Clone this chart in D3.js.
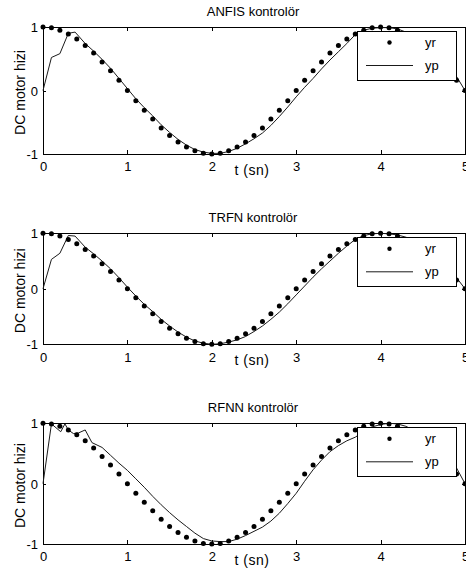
<!DOCTYPE html>
<html>
<head>
<meta charset="utf-8">
<script src="https://cdn.jsdelivr.net/npm/d3@7"></script>
<style>
  body { margin: 0; background: #fff; }
  svg { display: block; }
  text { font-family: "Liberation Sans", Arial, sans-serif; fill: #000; }
</style>
</head>
<body>
<svg width="466" height="577"></svg>
<script>
// reference signal yr, sampled every 0.1 s
const tYr = [0, 0.1, 0.2, 0.3, 0.4, 0.5, 0.6, 0.7, 0.8, 0.9, 1.0, 1.1, 1.2, 1.3, 1.4, 1.5, 1.6, 1.7, 1.8, 1.9, 2.0,
  2.1, 2.2, 2.3, 2.4, 2.5, 2.6, 2.7, 2.8, 2.9, 3.0, 3.1, 3.2, 3.3, 3.4, 3.5, 3.6, 3.7, 3.8, 3.9, 4.0,
  4.1, 4.2, 4.3, 4.4, 4.5, 4.6, 4.7, 4.8, 4.9, 5.0];
const yr = [1.00, 0.99, 0.95, 0.89, 0.81, 0.71, 0.59, 0.45, 0.31, 0.16, 0.00, -0.16, -0.31, -0.45, -0.59, -0.71, -0.81, -0.89, -0.95, -0.99, -1.00,
  -0.99, -0.95, -0.89, -0.81, -0.71, -0.59, -0.45, -0.31, -0.16, 0.00, 0.16, 0.31, 0.45, 0.59, 0.71, 0.81, 0.89, 0.95, 0.99, 1.00,
  0.99, 0.95, 0.89, 0.81, 0.71, 0.59, 0.45, 0.31, 0.16, 0.00];

// plant output yp for each controller, [t, y]
const ypAnfis = [[0, 0], [0.1, 0.52], [0.2, 0.58], [0.3, 0.90], [0.38, 0.92], [0.5, 0.74], [0.6, 0.62], [0.7, 0.49],
  [0.8, 0.35], [0.9, 0.19], [1.0, 0.03], [1.1, -0.13], [1.2, -0.27], [1.3, -0.40], [1.4, -0.54], [1.5, -0.66],
  [1.6, -0.77], [1.7, -0.86], [1.8, -0.93], [1.9, -0.97], [2.0, -0.99], [2.1, -0.99], [2.2, -0.96], [2.3, -0.91],
  [2.4, -0.84], [2.5, -0.76], [2.6, -0.67], [2.7, -0.55], [2.8, -0.41], [2.9, -0.26], [3.0, -0.10], [3.1, 0.05],
  [3.2, 0.19], [3.3, 0.34], [3.4, 0.48], [3.5, 0.61], [3.6, 0.74], [3.7, 0.88], [3.8, 0.95], [3.9, 0.98],
  [4.0, 0.99], [4.1, 0.99], [4.2, 0.97], [4.3, 0.92], [4.4, 0.86], [4.5, 0.78], [4.6, 0.68], [4.7, 0.56],
  [4.8, 0.42], [4.9, 0.22], [5.0, 0.0]];

const ypTrfn = [[0, 0], [0.1, 0.53], [0.2, 0.64], [0.3, 0.96], [0.38, 0.95], [0.5, 0.75], [0.6, 0.63], [0.7, 0.50],
  [0.8, 0.36], [0.9, 0.20], [1.0, 0.03], [1.1, -0.13], [1.2, -0.28], [1.3, -0.41], [1.4, -0.55], [1.5, -0.67],
  [1.6, -0.78], [1.7, -0.87], [1.8, -0.94], [1.9, -0.98], [2.0, -1.00], [2.1, -0.99], [2.2, -0.96], [2.3, -0.92],
  [2.4, -0.86], [2.5, -0.77], [2.6, -0.67], [2.7, -0.55], [2.8, -0.42], [2.9, -0.27], [3.0, -0.11], [3.1, 0.05],
  [3.2, 0.21], [3.3, 0.36], [3.4, 0.50], [3.5, 0.64], [3.6, 0.77], [3.7, 0.89], [3.8, 0.96], [3.9, 0.99],
  [4.0, 1.00], [4.1, 0.99], [4.2, 0.97], [4.3, 0.93], [4.4, 0.87], [4.5, 0.79], [4.6, 0.69], [4.7, 0.57],
  [4.8, 0.43], [4.9, 0.20], [5.0, 0.0]];

const ypRfnn = [[0, 0], [0.1, 0.99], [0.21, 0.86], [0.26, 0.99], [0.3, 0.89], [0.36, 0.83], [0.42, 0.84], [0.5, 0.89],
  [0.58, 0.68], [0.7, 0.60], [0.8, 0.47], [0.9, 0.34], [1.0, 0.22], [1.1, 0.08], [1.2, -0.06], [1.3, -0.21],
  [1.4, -0.35], [1.5, -0.48], [1.6, -0.60], [1.7, -0.71], [1.8, -0.82], [1.9, -0.91], [2.0, -0.95], [2.1, -0.96],
  [2.2, -0.96], [2.3, -0.92], [2.4, -0.86], [2.5, -0.79], [2.6, -0.72], [2.7, -0.62], [2.8, -0.49], [2.9, -0.33],
  [3.0, -0.16], [3.1, 0.04], [3.2, 0.23], [3.3, 0.39], [3.4, 0.53], [3.5, 0.63], [3.6, 0.71], [3.7, 0.77],
  [3.8, 0.86], [3.9, 0.94], [4.0, 0.98], [4.1, 1.00], [4.2, 0.99], [4.3, 0.95], [4.4, 0.88], [4.5, 0.79],
  [4.6, 0.68], [4.7, 0.55], [4.8, 0.41], [4.9, 0.26], [5.0, 0.0]];

const titles = ["ANFIS kontrolör", "TRFN kontrolör", "RFNN kontrolör"];
const xTicks = [0, 1, 2, 3, 4, 5];
const yTicks = [-1, 0, 1];

const svg = d3.select("svg");
const left = 43, right = 465;

// each panel's vertical extent (axes box)
const panels = [
  { title: titles[0], yp: ypAnfis, top: 27, bottom: 154 },
  { title: titles[1], yp: ypTrfn, top: 233.3, bottom: 344.3 },
  { title: titles[2], yp: ypRfnn, top: 423.3, bottom: 544 }
];

const x = d3.scaleLinear().domain([0, 5]).range([left, right]);
const fontSize = 13;
const plain = d => String(d);   // keep ASCII hyphen for "-1"

panels.forEach(p => {
  const y = d3.scaleLinear().domain([-1, 1]).range([p.bottom, p.top]);
  const g = svg.append("g");

  // title
  g.append("text")
    .attr("x", 253)
    .attr("y", p.top - 11)
    .attr("text-anchor", "middle")
    .style("font-size", "13px")
    .text(p.title);

  // axes with inward ticks
  const ax = g.append("g").attr("transform", `translate(0,${p.bottom})`)
    .call(d3.axisBottom(x).tickValues(xTicks).tickFormat(plain).tickSizeInner(-4).tickSizeOuter(0).tickPadding(8));
  g.append("g").attr("transform", `translate(0,${p.top})`)
    .call(d3.axisTop(x).tickValues(xTicks).tickFormat("").tickSizeInner(-4).tickSizeOuter(0));
  const ay = g.append("g").attr("transform", `translate(${left},0)`)
    .call(d3.axisLeft(y).tickValues(yTicks).tickFormat(plain).tickSizeInner(-3).tickSizeOuter(0).tickPadding(5));
  g.append("g").attr("transform", `translate(${right},0)`)
    .call(d3.axisRight(y).tickValues(yTicks).tickFormat("").tickSizeInner(-3).tickSizeOuter(0));

  g.selectAll(".domain").remove();
  g.selectAll(".tick line").attr("stroke", "#000").attr("shape-rendering", "crispEdges");
  [ax, ay].forEach(a => a.selectAll("text")
    .style("font-size", fontSize + "px")
    .attr("font-family", null));
  ay.selectAll("text").attr("dy", "0.35em");

  g.append("rect")
    .attr("x", left)
    .attr("y", p.top)
    .attr("width", right - left)
    .attr("height", p.bottom - p.top)
    .attr("fill", "none")
    .attr("stroke", "#000")
    .attr("shape-rendering", "crispEdges");

  // axis labels
  g.append("text")
    .attr("x", 252)
    .attr("y", p.bottom + 21)
    .attr("text-anchor", "middle")
    .style("font-size", "14px")
    .style("letter-spacing", "0.5px")
    .text("t (sn)");

  g.append("text")
    .attr("transform", "rotate(-90)")
    .attr("x", -((p.top + p.bottom) / 2 + 2))
    .attr("y", 25)
    .attr("text-anchor", "middle")
    .style("font-size", "14px")
    .text("DC motor hizi");

  // yp line
  const line = d3.line().x(d => x(d[0])).y(d => y(d[1]));
  g.append("path")
    .datum(p.yp)
    .attr("d", line)
    .attr("fill", "none")
    .attr("stroke", "#1a1a1a")
    .attr("stroke-width", 1);

  // yr dots
  g.selectAll(".dot")
    .data(tYr.map((t, i) => [t, yr[i]]))
    .enter()
    .append("circle")
    .attr("class", "dot")
    .attr("cx", d => x(d[0]))
    .attr("cy", d => y(d[1]))
    .attr("r", 2.5)
    .attr("fill", "#000");

  // legend
  const lg = g.append("g").attr("transform", `translate(357,${p.top + 4.5})`);
  lg.append("rect")
    .attr("width", 99.5)
    .attr("height", 49)
    .attr("fill", "#fff")
    .attr("stroke", "#000")
    .attr("shape-rendering", "crispEdges");
  lg.append("circle").attr("cx", 32.5).attr("cy", 11).attr("r", 2.2).attr("fill", "#000");
  lg.append("line")
    .attr("x1", 9).attr("x2", 56)
    .attr("y1", 34).attr("y2", 34)
    .attr("stroke", "#1a1a1a");
  lg.append("text").attr("x", 68).attr("y", 11).attr("dy", "0.35em").style("font-size", "13px").text("yr");
  lg.append("text").attr("x", 68).attr("y", 34).attr("dy", "0.35em").style("font-size", "13px").text("yp");
});
</script>
</body>
</html>
